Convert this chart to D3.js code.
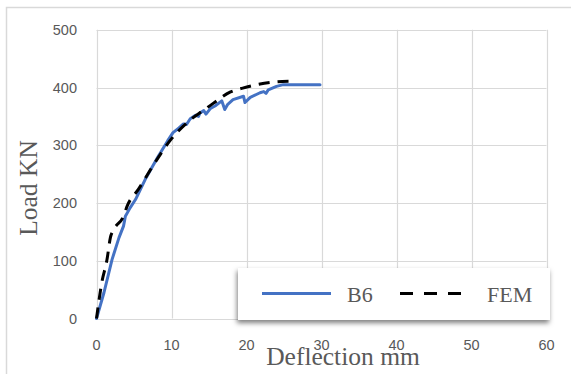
<!DOCTYPE html>
<html>
<head>
<meta charset="utf-8">
<script src="https://cdn.jsdelivr.net/npm/d3@7"></script>
<style>
  html, body { margin: 0; padding: 0; background: #fff; }
  svg { display: block; }
</style>
</head>
<body>
<svg id="chart" width="571" height="374"></svg>
<script>
// Load–deflection response of beam B6: test record and FEM prediction
const b6Deflection = [0, 1, 2.07, 3.0, 3.6, 3.85, 4.5, 5.2, 6.5, 8.2, 9.5, 10.2, 11, 11.6, 12.0, 12.5, 13.2, 13.6, 13.8, 14.3, 14.6, 15.2, 15.8, 16.7, 17.1, 17.5, 18.2, 19.6, 19.8, 20.5, 21.8, 22.3, 22.6, 22.9, 24, 24.9, 27, 29.8];
const b6Load       = [0, 45, 102, 140, 160, 177, 192, 206, 241, 280, 308, 322, 330, 337, 336, 346, 352, 350, 356, 360, 354, 364, 368, 377, 362, 371, 379, 385, 374, 383, 391, 393, 390, 396, 402, 405, 405, 405];

const femDeflection = [0, 0.7, 1.4, 1.85, 2.3, 3.6, 4.1, 5.6, 7.6, 9.8, 12.5, 14.2, 15.6, 17.8, 19.5, 21.4, 24, 25.8];
const femLoad       = [0, 62, 102, 140, 154, 177, 195, 224, 266, 308, 344, 360, 373, 392, 399, 405, 410, 411];

const xTicks = [0, 10, 20, 30, 40, 50, 60];
const yTicks = [0, 100, 200, 300, 400, 500];
const seriesNames = ["B6", "FEM"];

const svg = d3.select("#chart");
const gray = "#595959";
const grid = "#d9d9d9";

// outer chart frame
svg.append("rect")
  .attr("x", 6.5).attr("y", 7.5)
  .attr("width", 580).attr("height", 380)
  .attr("fill", "#fff").attr("stroke", grid).attr("stroke-width", 1.5);

const x = d3.scaleLinear().domain([0, 60]).range([96.5, 546.5]);
const y = d3.scaleLinear().domain([0, 500]).range([318.5, 29.8]);

// gridlines
svg.append("g").selectAll("line.v").data(xTicks).join("line")
  .attr("x1", d => Math.round(x(d)) + 0.5).attr("x2", d => Math.round(x(d)) + 0.5)
  .attr("y1", y(500)).attr("y2", y(0))
  .attr("stroke", grid).attr("stroke-width", 1.2);
svg.append("g").selectAll("line.h").data(yTicks).join("line")
  .attr("x1", x(0)).attr("x2", x(60))
  .attr("y1", d => Math.round(y(d)) + 0.5).attr("y2", d => Math.round(y(d)) + 0.5)
  .attr("stroke", grid).attr("stroke-width", 1.2);

// tick labels
const tickFont = "'Liberation Sans', Arial, sans-serif";
svg.append("g").selectAll("text").data(yTicks).join("text")
  .attr("x", 77).attr("y", d => y(d))
  .attr("dy", "0.35em")
  .attr("text-anchor", "end")
  .attr("font-family", tickFont).attr("font-size", 14.5)
  .attr("fill", gray)
  .text(d => d);
svg.append("g").selectAll("text").data(xTicks).join("text")
  .attr("x", d => x(d)).attr("y", 345)
  .attr("dy", "0.35em")
  .attr("text-anchor", "middle")
  .attr("font-family", tickFont).attr("font-size", 14.5)
  .attr("fill", gray)
  .text(d => d);

// axis titles
const serif = "'Liberation Serif', 'Times New Roman', serif";
svg.append("text")
  .attr("x", 343).attr("y", 365)
  .attr("text-anchor", "middle")
  .attr("font-family", serif).attr("font-size", 25.5)
  .attr("fill", gray)
  .text("Deflection mm");
svg.append("text")
  .attr("transform", "translate(36.5,188) rotate(-90)")
  .attr("text-anchor", "middle")
  .attr("font-family", serif).attr("font-size", 25.5)
  .attr("fill", gray)
  .text("Load KN");

// series
const line = d3.line().x(d => x(d[0])).y(d => y(d[1]));
const smooth = d3.line().x(d => x(d[0])).y(d => y(d[1])).curve(d3.curveMonotoneX);
const b6 = b6Deflection.map((d, i) => [d, b6Load[i]]);
const fem = femDeflection.map((d, i) => [d, femLoad[i]]);

svg.append("path").datum(b6)
  .attr("d", line)
  .attr("fill", "none").attr("stroke", "#4472C4")
  .attr("stroke-width", 3).attr("stroke-linejoin", "round").attr("stroke-linecap", "round");
svg.append("path").datum(fem)
  .attr("d", smooth)
  .attr("fill", "none").attr("stroke", "#000")
  .attr("stroke-width", 3).attr("stroke-dasharray", "11,8")
  .attr("stroke-linejoin", "round");

// legend with drop shadow
const defs = svg.append("defs");
const f = defs.append("filter").attr("id", "shadow")
  .attr("x", "-10%").attr("y", "-30%").attr("width", "120%").attr("height", "170%");
f.append("feDropShadow")
  .attr("dx", -1).attr("dy", 3).attr("stdDeviation", 2.5)
  .attr("flood-color", "#000").attr("flood-opacity", 0.5);

const legend = svg.append("g");
legend.append("rect")
  .attr("x", 238).attr("y", 268).attr("width", 312).attr("height", 52)
  .attr("fill", "#fff").attr("filter", "url(#shadow)");

const legendItems = [
  { name: seriesNames[0], x0: 262, x1: 331, tx: 347, stroke: "#4472C4", dash: null },
  { name: seriesNames[1], x0: 400, x1: 468, tx: 487, stroke: "#000", dash: "13,11" }
];
legendItems.forEach(it => {
  legend.append("line")
    .attr("x1", it.x0).attr("x2", it.x1).attr("y1", 293.5).attr("y2", 293.5)
    .attr("stroke", it.stroke).attr("stroke-width", 3.2)
    .attr("stroke-dasharray", it.dash);
  legend.append("text")
    .attr("x", it.tx).attr("y", 301.5)
    .attr("font-family", serif).attr("font-size", 22)
    .attr("fill", gray)
    .text(it.name);
});
</script>
</body>
</html>
